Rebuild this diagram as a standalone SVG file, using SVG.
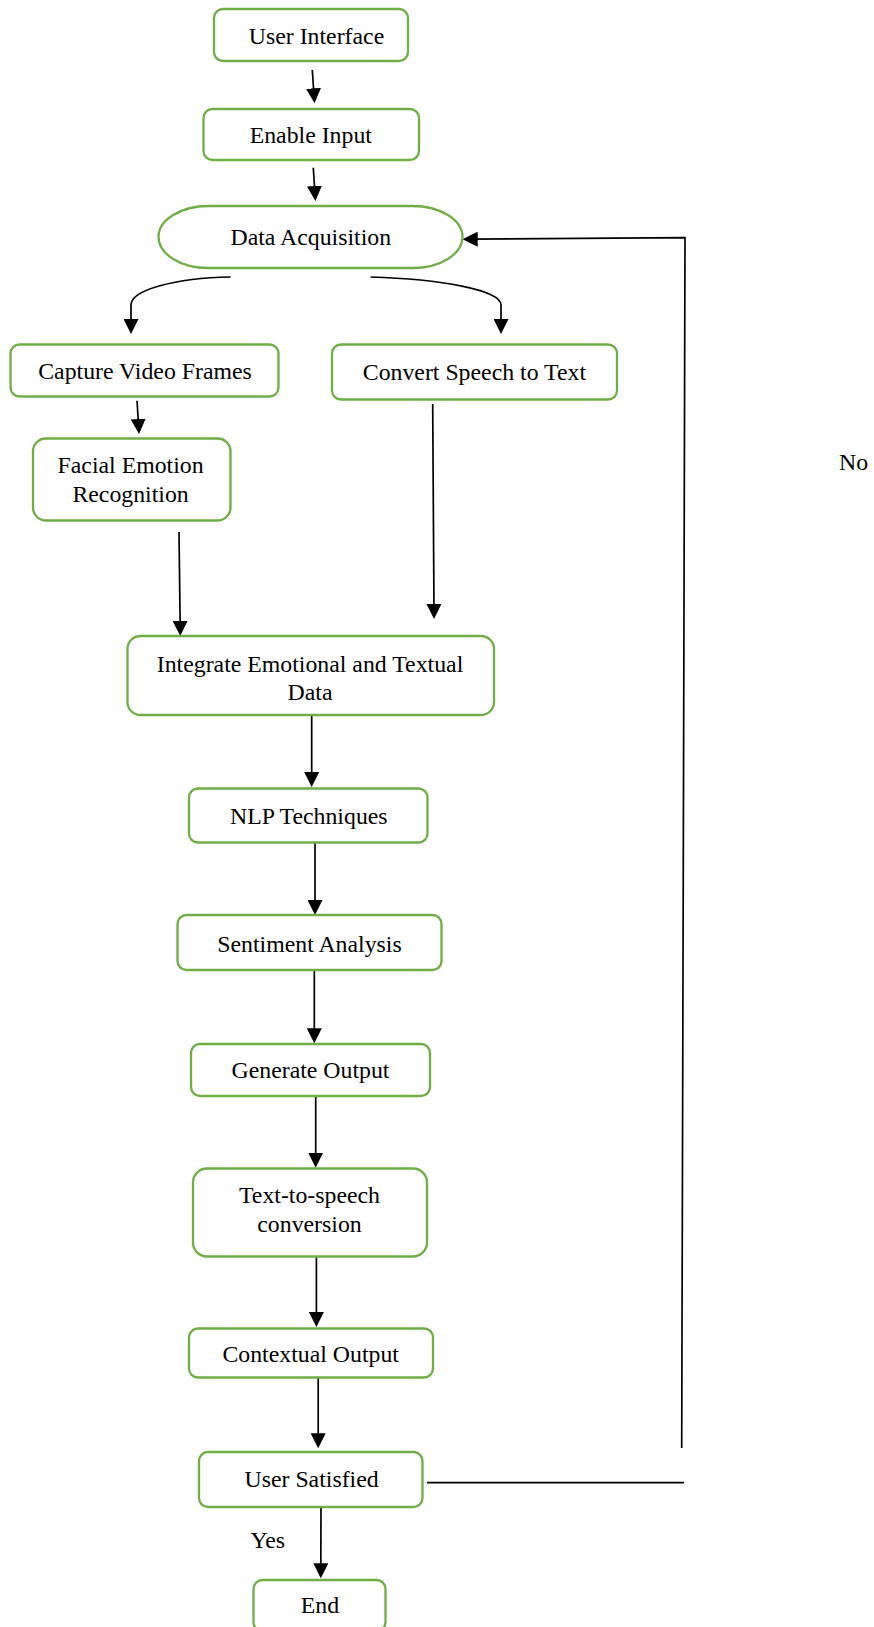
<svg xmlns="http://www.w3.org/2000/svg" width="874" height="1627" viewBox="0 0 874 1627">
<defs>
<marker id="ah" markerUnits="userSpaceOnUse" markerWidth="15" markerHeight="15" refX="7" refY="7.5" orient="auto">
<path d="M0,0 L15,7.5 L0,15 Z" fill="#000"/>
</marker>
<style>
.n{fill:#fff;stroke:#70AD47;stroke-width:2.3}
.t{font-family:"Liberation Serif","Times New Roman",serif;font-size:23.8px;fill:#000;text-anchor:middle}
.l{font-family:"Liberation Serif","Times New Roman",serif;font-size:23.8px;fill:#000}
.c{fill:none;stroke:#000;stroke-width:1.7}
.a{marker-end:url(#ah)}
</style>
</defs>
<rect width="874" height="1627" fill="#fff"/>
<g id="connectors">
<path class="c a" d="M312.3,70 L314,95.3"/>
<path class="c a" d="M313.3,167.7 L314.9,193"/>
<path class="c a" d="M230.6,277 C175,278 131,290 131,305 L131,326"/>
<path class="c a" d="M370.6,277 C440,279 501,290 501,305 L501,326"/>
<path class="c a" d="M137,400.7 L138.6,426"/>
<path class="c a" d="M179,532 L180.2,628"/>
<path class="c a" d="M432.7,404 L434,611"/>
<path class="c a" d="M311.7,715 L311.7,779"/>
<path class="c a" d="M315,843 L315,907"/>
<path class="c a" d="M314.3,970 L314.3,1035.3"/>
<path class="c a" d="M315.7,1096 L315.7,1159.7"/>
<path class="c a" d="M316.4,1257 L316.4,1319"/>
<path class="c a" d="M318.2,1378 L318.2,1440.3"/>
<path class="c a" d="M321,1507 L320.8,1570.3"/>
<path class="c" d="M427,1482.7 L684,1482.7"/>
<path class="c a" d="M681.7,1448 L685,237.7 L470.7,239.2"/>
</g>
<g id="user-interface"><rect class="n" x="214" y="9" width="194" height="52" rx="9"/><text class="t" x="316.5" y="44">User Interface</text></g>
<g id="enable-input"><rect class="n" x="203.5" y="109" width="215.5" height="51" rx="9"/><text class="t" x="310.8" y="143.3">Enable Input</text></g>
<g id="data-acquisition"><rect class="n" x="158.5" y="206" width="304" height="62" rx="50" ry="31"/><text class="t" x="310.8" y="245">Data Acquisition</text></g>
<g id="capture-video"><rect class="n" x="10.5" y="344.5" width="268" height="52" rx="9"/><text class="t" x="145" y="379">Capture Video Frames</text></g>
<g id="convert-speech"><rect class="n" x="332" y="344.5" width="285" height="55" rx="9"/><text class="t" x="474.4" y="380">Convert Speech to Text</text></g>
<g id="facial-emotion"><rect class="n" x="33" y="438.5" width="197.5" height="82" rx="13"/><text class="t" x="130.6" y="473.3">Facial Emotion</text><text class="t" x="130.6" y="501.5">Recognition</text></g>
<g id="integrate"><rect class="n" x="127.5" y="636" width="366.5" height="79" rx="13"/><text class="t" x="310" y="671.7">Integrate Emotional and Textual</text><text class="t" x="310" y="700">Data</text></g>
<g id="nlp"><rect class="n" x="189" y="788.5" width="238.5" height="54" rx="9"/><text class="t" x="308.8" y="824">NLP Techniques</text></g>
<g id="sentiment"><rect class="n" x="177.5" y="915" width="264" height="55" rx="9"/><text class="t" x="309.5" y="951.7">Sentiment Analysis</text></g>
<g id="generate-output"><rect class="n" x="191" y="1044" width="239" height="52" rx="9"/><text class="t" x="310.5" y="1077.7">Generate Output</text></g>
<g id="tts"><rect class="n" x="193" y="1168.5" width="234" height="88" rx="14"/><text class="t" x="309.5" y="1203.3">Text-to-speech</text><text class="t" x="309.5" y="1231.7">conversion</text></g>
<g id="contextual-output"><rect class="n" x="189" y="1328.5" width="244" height="49" rx="9"/><text class="t" x="310.7" y="1361.7">Contextual Output</text></g>
<g id="user-satisfied"><rect class="n" x="199" y="1452" width="223.5" height="55" rx="9"/><text class="t" x="311.6" y="1486.7">User Satisfied</text></g>
<g id="end"><rect class="n" x="253.5" y="1580" width="132" height="51" rx="9"/><text class="t" x="320" y="1612.7">End</text></g>
<g id="labels"><text class="l" x="250.5" y="1548.3">Yes</text><text class="l" x="839" y="470">No</text></g>
</svg>
